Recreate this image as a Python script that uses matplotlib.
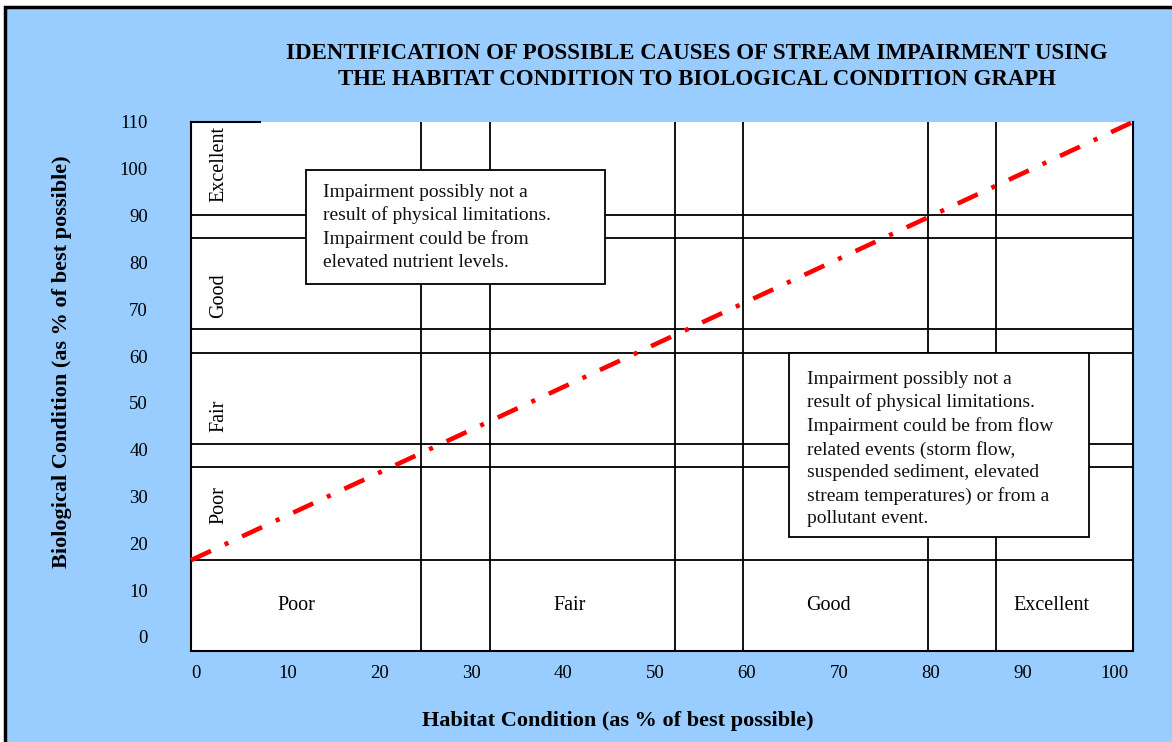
import matplotlib
matplotlib.use("Agg")
import matplotlib.pyplot as plt
from matplotlib.patches import Rectangle

# ---- data ----
title_lines = ["IDENTIFICATION OF POSSIBLE CAUSES OF STREAM IMPAIRMENT USING",
               "THE HABITAT CONDITION TO BIOLOGICAL CONDITION GRAPH"]
x_ticks = [0, 10, 20, 30, 40, 50, 60, 70, 80, 90, 100]
y_ticks = [0, 10, 20, 30, 40, 50, 60, 70, 80, 90, 100, 110]
habitat_bounds = [24.5, 32.0, 52.2, 59.6, 79.7, 87.1]          # vertical lines
bio_bounds = [90.2, 85.3, 65.7, 60.6, 41.2, 36.2, 16.4]         # horizontal lines
habitat_labels = ["Poor", "Fair", "Good", "Excellent"]
habitat_label_x = [11.0, 40.7, 68.9, 93.1]
habitat_label_y = 6.8
bio_labels = ["Excellent", "Good", "Fair", "Poor"]
bio_label_y = [101.0, 72.9, 47.3, 28.1]
bio_label_x = 2.5
ref_line_x = [-0.5, 102.0]
ref_line_y = [16.4, 110.0]
box1_text = ("Impairment possibly not a\nresult of physical limitations.\n"
             "Impairment could be from\nelevated nutrient levels.")
box1_rect = (12.0, 75.3, 32.6, 24.5)   # x, y, w, h
box2_text = ("Impairment possibly not a\nresult of physical limitations.\n"
             "Impairment could be from flow\nrelated events (storm flow,\n"
             "suspended sediment, elevated\nstream temperatures) or from a\n"
             "pollutant event.")
box2_rect = (64.6, 21.3, 32.6, 39.3)

SERIF = ["Liberation Serif", "DejaVu Serif"]
BLUE = "#99CCFF"

fig = plt.figure(figsize=(11.72, 7.42), dpi=100, facecolor="white")
W, H = 1172, 742
# blue panel with black border
fig.patches.append(Rectangle((5 / W, -0.05), 1.2, 1 - 7 / H + 0.05,
                             transform=fig.transFigure, facecolor=BLUE,
                             edgecolor="black", linewidth=2.5, zorder=-10))

ax = fig.add_axes([191 / W, 1 - 651 / H, (1133 - 191) / W, (651 - 122) / H])
ax.set_zorder(1)
ax.set_facecolor("white")
ax.set_xlim(-0.5, 102.0)
ax.set_ylim(-3.0, 110.0)
for s in ["left", "right", "bottom"]:
    ax.spines[s].set_linewidth(1.5)
ax.spines["top"].set_visible(False)
ax.plot([-0.5, 7.0], [110.0, 110.0], color="black", lw=1.5, clip_on=False, zorder=3)

ax.set_xticks(x_ticks)
ax.set_xticklabels([str(v) for v in x_ticks], family=SERIF, fontsize=13.5)
ax.set_yticks(y_ticks)
ax.set_yticklabels([str(v) for v in y_ticks], family=SERIF, fontsize=13.5)
ax.tick_params(axis="x", length=0, pad=10)
ax.tick_params(axis="y", length=0, pad=31)

for xv in habitat_bounds:
    ax.axvline(xv, color="black", lw=1.3, zorder=1)
for yv in bio_bounds:
    ax.axhline(yv, color="black", lw=1.3, zorder=1)

for lab, xv in zip(habitat_labels, habitat_label_x):
    ax.text(xv, habitat_label_y, lab, family=SERIF, fontsize=14.5,
            ha="center", va="center")
for lab, yv in zip(bio_labels, bio_label_y):
    ax.text(bio_label_x, yv, lab, family=SERIF, fontsize=14.5, rotation=90,
            ha="center", va="center")

ax.plot(ref_line_x, ref_line_y, color="#FF0000", lw=3.3,
        dashes=(4.8, 3.3, 0.9, 3.3), zorder=4, clip_on=False,
        dash_capstyle="butt")

for (bx, by, bw, bh), txt, top_off in [(box1_rect, box1_text, 3.0),
                                       (box2_rect, box2_text, 3.7)]:
    ax.add_patch(Rectangle((bx, by), bw, bh, facecolor="white",
                           edgecolor="black", lw=1.3, zorder=5))
    ax.text(bx + 1.9, by + bh - top_off, txt, family=SERIF, fontsize=14,
            ha="left", va="top", linespacing=1.42, zorder=6, color="#111111")

ax.set_xlabel("Habitat Condition (as % of best possible)", family=SERIF,
              fontsize=16, fontweight="bold", va="center", ha="center")
ax.xaxis.set_label_coords(0.453, -0.133)
ax.set_ylabel("Biological Condition (as % of best possible)", family=SERIF,
              fontsize=16, fontweight="bold", va="center", ha="center")
ax.yaxis.set_label_coords(-0.137, 0.546)

fig.text(697 / W, 1 - 66.5 / H, "\n".join(title_lines), family=SERIF,
         fontsize=16.5, fontweight="bold", ha="center", va="center",
         linespacing=1.26)

fig.savefig("out.png", dpi=100, facecolor=fig.get_facecolor())
